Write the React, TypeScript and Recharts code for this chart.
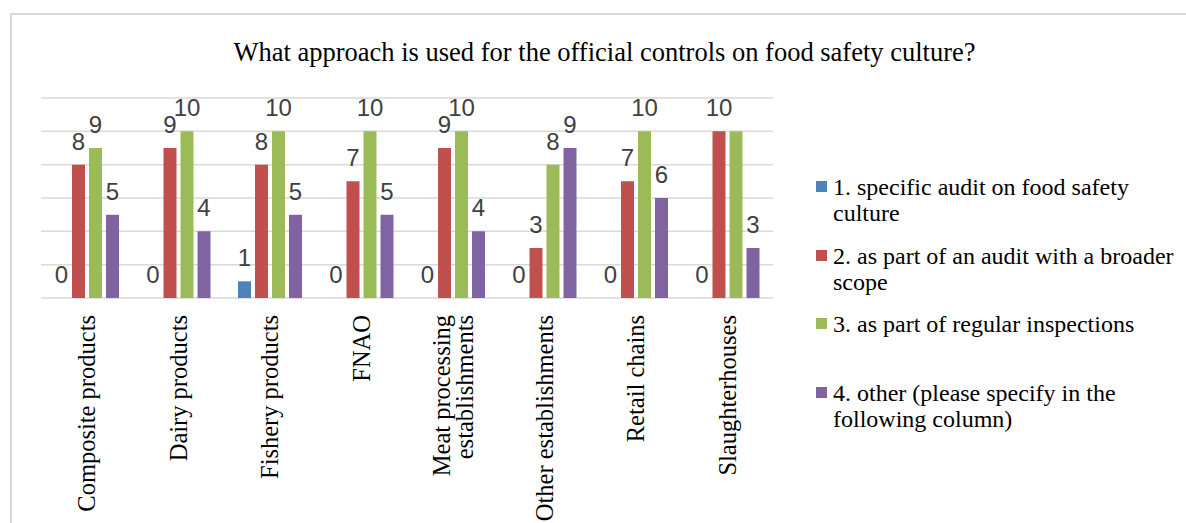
import { BarChart, Bar, XAxis, YAxis, CartesianGrid, Legend, LabelList } from 'recharts'

const categories = [
  'Composite products',
  'Dairy products',
  'Fishery products',
  'FNAO',
  'Meat processing\nestablishments',
  'Other establishments',
  'Retail chains',
  'Slaughterhouses',
]

const specificAudit = [0, 0, 1, 0, 0, 0, 0, 0]
const broaderAudit = [8, 9, 8, 7, 9, 3, 7, 10]
const regularInspections = [9, 10, 10, 10, 10, 8, 10, 10]
const otherApproach = [5, 4, 5, 5, 4, 9, 6, 3]

const yTicks = [0, 2, 4, 6, 8, 10, 12]

const seriesNames = [
  '1. specific audit on food safety culture',
  '2. as part of an audit with a broader scope',
  '3. as part of regular inspections',
  '4. other (please specify in the following column)',
]

const data = categories.map((category, i) => ({
  category,
  s1: specificAudit[i],
  s2: broaderAudit[i],
  s3: regularInspections[i],
  s4: otherApproach[i],
}))

const SERIF = '"Liberation Serif", "Times New Roman", serif'
const SANS = '"Liberation Sans", Arial, sans-serif'

const ValueLabel = (props: any) => {
  const { x, y, width, value } = props
  return (
    <text
      x={Number(x) + Number(width) / 2}
      y={Number(y) - 15}
      textAnchor="middle"
      fill="#404040"
      fontSize={24}
      fontFamily={SANS}
    >
      {value}
    </text>
  )
}

// green label is dropped where it would sit right on top of the red one
const RegularLabel = (props: any) => {
  if (broaderAudit[props.index] === props.value) return null
  return <ValueLabel {...props} />
}

const CategoryTick = (props: any) => {
  const { x, y, payload } = props
  const lines = String(payload.value).split('\n')
  const lh = 23
  return (
    <g transform={`translate(${x},${y})`}>
      <text
        transform="rotate(-90)"
        textAnchor="end"
        fontSize={24.5}
        fontFamily={SERIF}
        fill="#000"
      >
        {lines.map((line, i) => (
          <tspan key={i} x={-15} y={(i - (lines.length - 1) / 2) * lh} dy="0.35em">
            {line}
          </tspan>
        ))}
      </text>
    </g>
  )
}

const LegendBlock = ({ payload }: any) => (
  <div style={{ fontFamily: SERIF, fontSize: 24, lineHeight: '26px', color: '#000' }}>
    {(payload || []).map((entry: any) => (
      <div key={entry.value} style={{ display: 'flex', height: 68.5 }}>
        <span
          style={{
            width: 11,
            height: 11,
            marginTop: 7,
            marginRight: 6,
            flex: 'none',
            background: entry.color,
          }}
        />
        <span style={{ width: 345 }}>{entry.value}</span>
      </div>
    ))}
  </div>
)

export default function App() {
  return (
    <div
      style={{
        position: 'absolute',
        left: 0,
        top: 0,
        width: 1186,
        height: 523,
        overflow: 'hidden',
        background: '#fff',
      }}
    >
      <div
        style={{
          position: 'absolute',
          left: 10,
          top: 13,
          width: 1300,
          height: 700,
          border: '2px solid #d9d9d9',
        }}
      />
      <div
        style={{
          position: 'absolute',
          left: 10,
          width: 1189,
          top: 36,
          textAlign: 'center',
          fontFamily: SERIF,
          fontSize: 26.5,
          lineHeight: '32px',
          color: '#000',
        }}
      >
        What approach is used for the official controls on food safety culture?
      </div>
      <BarChart
        width={1186}
        height={523}
        data={data}
        margin={{ top: 98, right: 413, left: 41, bottom: 0 }}
        barSize={13}
        barGap={4}
        style={{ position: 'absolute', left: 0, top: 0 }}
      >
        <CartesianGrid vertical={false} stroke="#d9d9d9" strokeWidth={1.5} />
        <YAxis hide domain={[0, 12]} ticks={yTicks} />
        <XAxis
          dataKey="category"
          interval={0}
          height={225}
          axisLine={false}
          tickLine={false}
          tickSize={0}
          tick={<CategoryTick />}
        />
        <Legend
          layout="vertical"
          align="center"
          verticalAlign="middle"
          content={<LegendBlock />}
          wrapperStyle={{ left: 816, top: 174, width: 370 }}
        />
        {/* tiny minPointSize keeps zero bars in place so their "0" labels still show */}
        <Bar dataKey="s1" name={seriesNames[0]} fill="#4f81bd" minPointSize={0.01} isAnimationActive={false}>
          <LabelList dataKey="s1" content={<ValueLabel />} />
        </Bar>
        <Bar dataKey="s2" name={seriesNames[1]} fill="#c0504d" isAnimationActive={false}>
          <LabelList dataKey="s2" content={<ValueLabel />} />
        </Bar>
        <Bar dataKey="s3" name={seriesNames[2]} fill="#9bbb59" isAnimationActive={false}>
          <LabelList dataKey="s3" content={<RegularLabel />} />
        </Bar>
        <Bar dataKey="s4" name={seriesNames[3]} fill="#8064a2" isAnimationActive={false}>
          <LabelList dataKey="s4" content={<ValueLabel />} />
        </Bar>
      </BarChart>
    </div>
  )
}
